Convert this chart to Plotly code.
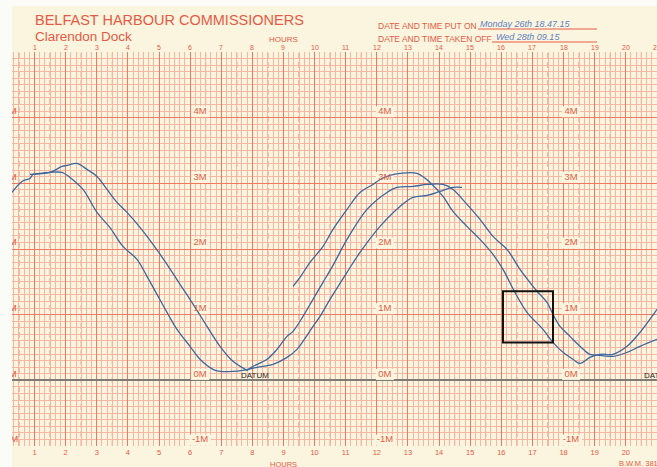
import plotly.graph_objects as go

# ---------------- data (hours, metres) ----------------
hour_ticks = list(range(1, 22))
metre_levels = [-1, 0, 1, 2, 3, 4]
metre_label_hours = [6.32, 12.26, 18.24]
edge_label_hour = 0.21

# first falling trace (earlier)
fall1_h = [0.276, 0.598, 0.855, 0.951, 1.176, 1.497, 1.883, 2.140, 2.558, 3.008, 3.419, 3.843,
           4.293, 4.614, 4.936, 5.257, 5.578, 5.996, 6.317, 6.735, 6.960, 7.378, 7.699]
fall1_m = [2.862, 3.029, 3.075, 3.135, 3.151, 3.166, 3.166, 3.090, 2.907, 2.557, 2.329, 2.040,
           1.842, 1.583, 1.309, 1.035, 0.776, 0.518, 0.320, 0.167, 0.137, 0.137, 0.152]

# second falling trace (later, higher peak)
fall2_h = [0.855, 1.497, 1.883, 2.044, 2.365, 2.686, 3.008, 3.329, 3.650, 3.972, 4.389, 4.807,
           5.257, 5.675, 5.996, 6.221, 6.542, 6.960, 7.378, 7.828]
fall2_m = [3.135, 3.166, 3.257, 3.272, 3.303, 3.212, 3.105, 2.907, 2.709, 2.557, 2.329, 2.070,
           1.766, 1.461, 1.233, 1.065, 0.822, 0.518, 0.289, 0.152]

# rising / falling trace through the middle peak
rise1_h = [7.828, 8.021, 8.471, 8.792, 9.113, 9.306, 9.627, 9.949, 10.270, 10.591, 11.041, 11.684,
           12.326, 12.648, 13.162, 13.612, 14.126, 14.448, 14.897, 15.315, 15.733, 16.183, 16.600,
           17.018, 17.179, 17.468, 17.661, 17.886, 18.207, 18.529, 18.850, 19.171, 19.589, 20.039,
           20.456, 21.003]
rise1_m = [0.152, 0.213, 0.320, 0.472, 0.670, 0.746, 0.974, 1.233, 1.492, 1.750, 2.146, 2.603,
           2.861, 2.938, 2.953, 2.983, 2.983, 2.907, 2.679, 2.451, 2.192, 1.994, 1.689,
           1.431, 1.339, 1.187, 1.005, 0.822, 0.670, 0.518, 0.396, 0.381, 0.365, 0.426,
           0.518, 0.624]

# lower rising trace (ends near 14.7 h)
rise2_h = [7.699, 8.150, 8.664, 9.113, 9.434, 9.627, 9.949, 10.174, 10.495, 11.041, 11.459, 12.102,
           12.744, 13.162, 13.612, 14.030, 14.448, 14.737]
rise2_m = [0.152, 0.198, 0.244, 0.350, 0.472, 0.594, 0.822, 0.974, 1.233, 1.644, 1.948, 2.344,
           2.648, 2.785, 2.816, 2.877, 2.938, 2.938]

# trace started mid-chart (highest second peak)
rise3_h = [9.306, 9.531, 9.852, 10.270, 10.591, 11.041, 11.459, 11.877, 12.102, 12.423, 12.744,
           13.290, 13.708, 14.126, 14.448, 14.897, 15.315, 15.733, 16.054, 16.440, 16.825, 17.339,
           17.661, 17.982, 18.303, 18.529, 18.850, 19.171, 19.589, 20.039, 20.456, 21.003]
rise3_m = [1.431, 1.568, 1.796, 2.040, 2.298, 2.603, 2.861, 2.983, 3.059, 3.120, 3.151,
           3.151, 3.014, 2.801, 2.572, 2.344, 2.146, 1.918, 1.689, 1.339, 1.035, 0.776,
           0.578, 0.426, 0.320, 0.259, 0.350, 0.396, 0.396, 0.518, 0.731, 1.081]

# hand-drawn box (hours, metres)
box_h = [16.054, 17.661]
box_m = [0.578, 1.355]

datum_label_hours = [8.085, 21.03]

# ---------------- styling ----------------
RED = '#e65a44'
GRID_MAJOR = '#ee7862'
GRID_MINOR = '#f6b6a4'
BLUE = '#3a689e'
CREAM = '#fbf5df'
FONT = 'Liberation Sans'

W, H = 657, 467
ML, MR, MT, MB = 12, 0, 52, 21
PW, PH = W - ML - MR, H - MT - MB


def px_x(px):
    return (px - ML) / PW


def px_y(py):
    return (H - MB - py) / PH


fig = go.Figure()

for hh, mm in [(fall1_h, fall1_m), (fall2_h, fall2_m), (rise1_h, rise1_m),
               (rise2_h, rise2_m), (rise3_h, rise3_m)]:
    fig.add_trace(go.Scatter(x=hh, y=mm, mode='lines', line=dict(color=BLUE, width=1.3),
                             line_shape='spline', hoverinfo='skip', showlegend=False))

# metre labels: edge column (clipped by the paper edge) and interior columns
lab_x, lab_y, lab_t = [], [], []
for hx in [edge_label_hour] + metre_label_hours:
    for lv in metre_levels:
        lab_x.append(hx)
        lab_y.append(lv + 0.09)
        lab_t.append(f'{lv}M')
fig.add_trace(go.Scatter(x=lab_x, y=lab_y, text=lab_t, mode='text', cliponaxis=True,
                         textfont=dict(family=FONT, size=9.5, color=RED),
                         hoverinfo='skip', showlegend=False))

# DATUM labels
fig.add_trace(go.Scatter(x=datum_label_hours, y=[0.07] * len(datum_label_hours),
                         text=['DATUM'] * len(datum_label_hours), mode='text', cliponaxis=True,
                         textfont=dict(family=FONT, size=8, color='#2b2b2b'),
                         hoverinfo='skip', showlegend=False))

shapes = []
# white left strip and top strip of the scan
shapes.append(dict(type='rect', xref='paper', yref='paper', x0=px_x(0), x1=px_x(ML),
                   y0=px_y(H), y1=px_y(0), fillcolor='#fbfbf7', line=dict(width=0), layer='below'))
shapes.append(dict(type='rect', xref='paper', yref='paper', x0=px_x(0), x1=px_x(W),
                   y0=px_y(6), y1=px_y(0), fillcolor='#fbfbf7', line=dict(width=0), layer='below'))
# half-hour dashed lines
for h in hour_ticks:
    shapes.append(dict(type='line', xref='x', yref='paper', x0=h - 0.5, x1=h - 0.5, y0=0, y1=1,
                       line=dict(color=GRID_MAJOR, width=1, dash='6px,3px'), layer='between'))
# clear paper patches behind the interior metre labels (above grid, below ink)
for hx in metre_label_hours:
    for lv in metre_levels:
        w = 9 if lv >= 0 else 11
        shapes.append(dict(type='rect', xref='x', yref='y', xsizemode='pixel', ysizemode='pixel',
                           xanchor=hx, yanchor=lv + 0.09, x0=-w, x1=w, y0=-5.5, y1=5.5,
                           fillcolor=CREAM, line=dict(width=0), layer='between'))
# box
shapes.append(dict(type='rect', xref='x', yref='y', x0=box_h[0], x1=box_h[1], y0=box_m[0], y1=box_m[1],
                   line=dict(color='#111111', width=2), fillcolor='rgba(0,0,0,0)', layer='above'))
# red underlines for handwritten fields
shapes.append(dict(type='line', xref='paper', yref='paper', x0=px_x(478), x1=px_x(597),
                   y0=px_y(29), y1=px_y(29), line=dict(color=RED, width=1)))
shapes.append(dict(type='line', xref='paper', yref='paper', x0=px_x(492), x1=px_x(597),
                   y0=px_y(42), y1=px_y(42), line=dict(color=RED, width=1)))

ann = []
# top hour labels
for h in hour_ticks:
    ann.append(dict(x=h, y=px_y(47.5), xref='x', yref='paper', text=str(h),
                    font=dict(family=FONT, size=7, color=RED), xanchor='center', yanchor='middle'))
ann += [
    dict(x=px_x(33), y=px_y(20), text='BELFAST HARBOUR COMMISSIONERS', xanchor='left', yanchor='middle',
         font=dict(family=FONT, size=14.5, color=RED)),
    dict(x=px_x(33), y=px_y(36.5), text='Clarendon Dock', xanchor='left', yanchor='middle',
         font=dict(family=FONT, size=13.5, color=RED)),
    dict(x=px_x(283), y=px_y(39), text='HOURS', xanchor='center', yanchor='middle',
         font=dict(family=FONT, size=8, color=RED)),
    dict(x=px_x(376), y=px_y(26), text='DATE AND TIME PUT ON', xanchor='left', yanchor='middle',
         font=dict(family=FONT, size=8.5, color=RED)),
    dict(x=px_x(376), y=px_y(39), text='DATE AND TIME TAKEN OFF', xanchor='left', yanchor='middle',
         font=dict(family=FONT, size=8.5, color=RED)),
    dict(x=px_x(478), y=px_y(24), text='<i>Monday 26th 18.47.15</i>', xanchor='left', yanchor='middle',
         font=dict(family=FONT, size=9, color='#5b7fc0')),
    dict(x=px_x(494), y=px_y(37), text='<i>Wed 28th 09.15</i>', xanchor='left', yanchor='middle',
         font=dict(family=FONT, size=9, color='#5b7fc0')),
    dict(x=px_x(283), y=px_y(464), text='HOURS', xanchor='center', yanchor='middle',
         font=dict(family=FONT, size=7.5, color=RED)),
    dict(x=px_x(617), y=px_y(463), text='B.W.M. 381', xanchor='left', yanchor='middle',
         font=dict(family=FONT, size=7.5, color=RED)),
]
for a in ann:
    a.setdefault('xref', 'paper')
    a.setdefault('yref', 'paper')
    a['showarrow'] = False

fig.update_layout(
    width=W, height=H, autosize=False,
    margin=dict(l=ML, r=MR, t=MT, b=MB, pad=0),
    paper_bgcolor=CREAM, plot_bgcolor=CREAM,
    shapes=shapes, annotations=ann, showlegend=False,
)
fig.update_xaxes(range=[(ML - 3.4) / 31.12, (W - 3.4) / 31.12], tickmode='linear', tick0=0, dtick=1,
                 showgrid=True, gridcolor=GRID_MAJOR, gridwidth=1.2,
                 minor=dict(tickmode='linear', tick0=0, dtick=1 / 6, showgrid=True, gridcolor=GRID_MINOR, gridwidth=0.8),
                 zeroline=False, showline=False, ticks='', automargin=False,
                 tickfont=dict(family=FONT, size=7.5, color=RED), fixedrange=True)
fig.update_yaxes(range=[-1, 5], tickmode='linear', tick0=0, dtick=1,
                 showgrid=True, gridcolor=GRID_MAJOR, gridwidth=1.2,
                 minor=dict(tickmode='linear', tick0=0, dtick=0.1, showgrid=True, gridcolor=GRID_MINOR, gridwidth=0.8),
                 zeroline=True, zerolinecolor='#7e7c74', zerolinewidth=1.5, automargin=False,
                 showticklabels=False, showline=False, ticks='', fixedrange=True)

fig.write_html('out.html', config={'displayModeBar': False},
               post_script="document.body.style.margin='0';document.body.style.padding='0';")
